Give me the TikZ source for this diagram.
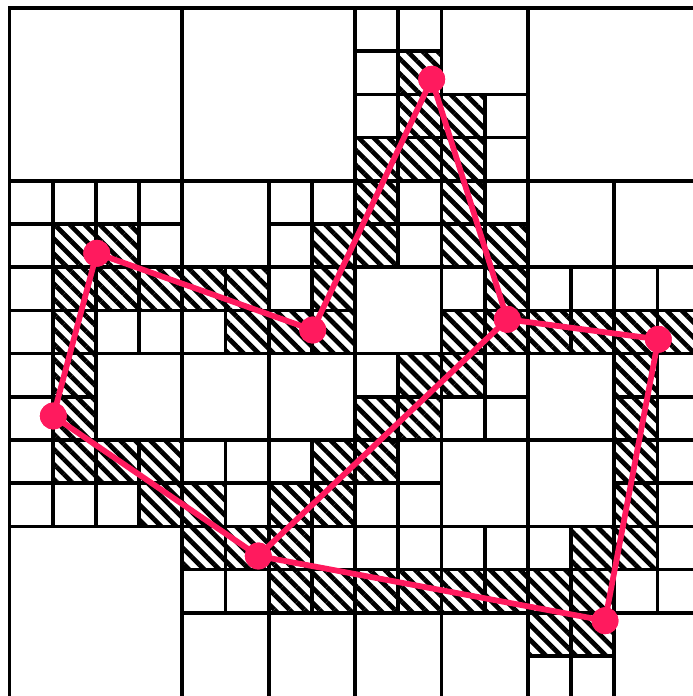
\documentclass[tikz,border=0pt]{standalone}
\usetikzlibrary{patterns.meta}
\definecolor{polyred}{RGB}{255,26,94}
\begin{document}
\begin{tikzpicture}[x=1cm,y=-1cm,
  gridline/.style={draw=black,line width=2.4pt},
  hatch/.style={pattern={Lines[angle=-45,distance=7pt,line width=3.1pt]}},
  polyedge/.style={draw=polyred,line width=3.8pt},
  vertex/.style={circle,fill=polyred,inner sep=0pt,minimum size=0.62cm}]
\useasboundingbox (-0.22,-0.185) rectangle (15.82,15.926);
% hatched cells
\foreach \c/\r in {9/1, 9/2,10/2, 8/3,9/3,10/3, 8/4,10/4,
  1/5,2/5,7/5,8/5,10/5,11/5,
  1/6,2/6,3/6,4/6,5/6,7/6,11/6,
  1/7,5/7,6/7,7/7,10/7,11/7,12/7,13/7,14/7,15/7,
  1/8,9/8,10/8,14/8, 1/9,8/9,9/9,14/9,
  1/10,2/10,3/10,7/10,8/10,14/10,
  3/11,4/11,6/11,7/11,14/11,
  4/12,5/12,6/12,13/12,14/12,
  6/13,7/13,8/13,9/13,10/13,11/13,12/13,13/13,
  12/14,13/14}
  \fill[hatch] (\c,\r) rectangle ++(1,1);
% level-2 leaves
\foreach \c/\r in {0/0,4/0,12/0,0/12}
  \draw[gridline] (\c,\r) rectangle ++(4,4);
% level-3 leaves
\foreach \c/\r in {4/4,10/0,12/4,14/4,8/6,2/8,4/8,6/8,4/14,6/14,10/10,12/8,12/10,8/14,10/14,14/14}
  \draw[gridline] (\c,\r) rectangle ++(2,2);
% level-4 leaves
\foreach \c/\r in {0/4,2/4,0/6,2/6, 6/4,4/6,6/6, 8/0,8/2,10/2, 8/4,10/4,10/6,
  12/6,14/6, 0/8,0/10,2/10, 4/10,6/10, 4/12,6/12, 8/8,10/8,8/10,
  14/8,14/10, 8/12,10/12, 12/12,14/12,12/14}
  \foreach \dx in {0,1}
    \foreach \dy in {0,1}
      \draw[gridline] ({\c+\dx},{\r+\dy}) rectangle ++(1,1);
% polygon
\node[vertex] (A) at (9.773,1.650) {};
\node[vertex] (B) at (11.523,7.206) {};
\node[vertex] (C) at (15.019,7.669) {};
\node[vertex] (D) at (13.785,14.183) {};
\node[vertex] (E) at (5.759,12.685) {};
\node[vertex] (F) at (1.014,9.444) {};
\node[vertex] (G) at (2.019,5.678) {};
\node[vertex] (H) at (7.019,7.454) {};
\draw[polyedge] (A.center) -- (B.center) -- (C.center) -- (D.center) -- (E.center)
  -- (F.center) -- (G.center) -- (H.center) -- (A.center);
\draw[polyedge] (B.center) -- (E.center);
\foreach \v in {A,B,C,D,E,F,G,H}
  \fill[polyred] (\v.center) circle (0.31);
\end{tikzpicture}
\end{document}
